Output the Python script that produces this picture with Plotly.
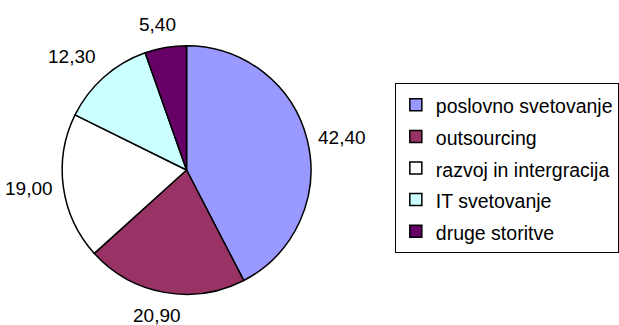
import math
import plotly.graph_objects as go

categories = ["poslovno svetovanje", "outsourcing", "razvoj in intergracija", "IT svetovanje", "druge storitve"]
values = [42.40, 20.90, 19.00, 12.30, 5.40]
colors = ["#9999FF", "#993366", "#FFFFFF", "#CCFFFF", "#660066"]
value_labels = ["42,40", "20,90", "19,00", "12,30", "5,40"]

W, H = 619, 325
cx, cy, r = 189, 170, 126  # pie centre / radius in pixels

fig = go.Figure()
fig.add_trace(go.Pie(
    labels=[f'<span style="font-size:19.5px">{c}</span>' for c in categories],
    values=values,
    sort=False,
    direction="clockwise",
    rotation=0,
    marker=dict(colors=colors, line=dict(color="black", width=1.5)),
    textinfo="none",
    hoverinfo="label+value",
    domain=dict(x=[(cx - r) / W, (cx + r) / W], y=[(H - cy - r) / H, (H - cy + r) / H]),
))

# value labels placed just outside each slice
total = sum(values)
cum = 0.0
for v, lab in zip(values, value_labels):
    mid = (cum + v / 2) / total * 2 * math.pi
    cum += v
    s, c = math.sin(mid), math.cos(mid)
    px = cx + (r + 10) * s
    py = cy - (r + 10) * c
    xa = "left" if s > 0.3 else ("right" if s < -0.3 else "center")
    ya = "bottom" if c > 0.3 else ("top" if c < -0.3 else "middle")
    fig.add_annotation(x=px / W, y=1 - py / H, xref="paper", yref="paper",
                       text=lab, showarrow=False, xanchor=xa, yanchor=ya,
                       xshift=-6 if xa == "center" else 0,
                       font=dict(size=19, color="black"), borderpad=0)

fig.update_layout(
    width=W, height=H,
    margin=dict(l=0, r=0, t=0, b=0),
    paper_bgcolor="white", plot_bgcolor="white",
    font=dict(family="Liberation Sans, Arial, sans-serif", color="black"),
    showlegend=True,
    legend=dict(x=400 / W, xanchor="left", y=1 - 83 / H, yanchor="top",
                bordercolor="black", borderwidth=1, bgcolor="white",
                font=dict(size=22, color="black")),
)

fig.write_html("out.html")
